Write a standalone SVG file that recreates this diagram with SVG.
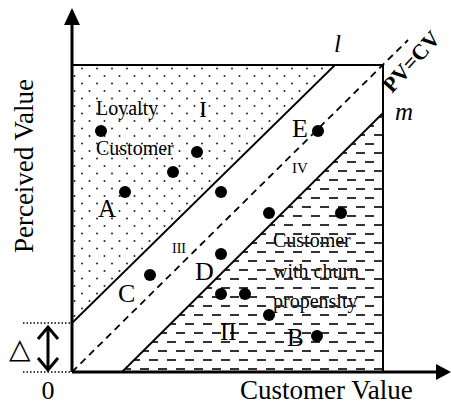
<svg xmlns="http://www.w3.org/2000/svg" width="451" height="404" viewBox="0 0 451 404">
<style>
.t{font-family:"Liberation Serif","Times New Roman","DejaVu Serif",serif;fill:#000}
.ax{stroke:#000;stroke-width:3;fill:none}
.bd{stroke:#000;stroke-width:2;fill:none}
.ln{stroke:#000;stroke-width:1.8;fill:none}
.dot{fill:#000}
</style>
<defs>
<pattern id="dots" patternUnits="userSpaceOnUse" x="72" y="65" width="15" height="15">
<circle cx="10" cy="3.5" r="1" fill="#222"/>
<circle cx="2.5" cy="11" r="1" fill="#222"/>
</pattern>
<pattern id="hatch" patternUnits="userSpaceOnUse" x="122" y="113" width="18" height="18">
<line x1="0" y1="4" x2="9" y2="4" stroke="#333" stroke-width="2"/>
<line x1="9" y1="13" x2="18" y2="13" stroke="#333" stroke-width="2"/>
</pattern>
</defs>

<g id="region-I">
<polygon points="72,65 335,65 72,323" fill="url(#dots)"/>
</g>
<g id="region-II-text">
<text class="t" x="273" y="247" font-size="20">Customer</text>
<text class="t" x="273" y="278" font-size="20">with churn</text>
<text class="t" x="273" y="308" font-size="20">propensity</text>
</g>
<g id="region-II">
<polygon points="122,372 383,113 383,372" fill="url(#hatch)"/>
</g>

<g id="connectors">
<line class="ax" x1="72" y1="372" x2="72" y2="22"/>
<polygon points="72,8 64,25 80,25" fill="#000"/>
<line class="ax" x1="72" y1="372" x2="438" y2="372"/>
<polygon points="451,372 436,364 436,380" fill="#000"/>
<polyline class="bd" points="72,65 383,65 383,372"/>
<line id="line-l" class="ln" x1="72" y1="323" x2="335" y2="65"/>
<line id="line-m" class="ln" x1="122" y1="372" x2="383" y2="113"/>
<line id="line-pvcv" class="ln" x1="72" y1="372" x2="408" y2="40" stroke-dasharray="7,5"/>
<line x1="23" y1="323" x2="72" y2="323" stroke="#000" stroke-width="1.5" stroke-dasharray="1.5,2"/>
<line x1="23" y1="372" x2="72" y2="372" stroke="#000" stroke-width="1.5" stroke-dasharray="1.5,2"/>
<line x1="48" y1="327" x2="48" y2="370" stroke="#000" stroke-width="3"/>
<polyline points="38,339 48,327 58,339" stroke="#000" stroke-width="3" fill="none"/>
<polyline points="38,358 48,370 58,358" stroke="#000" stroke-width="3" fill="none"/>
</g>

<g id="labels">
<text class="t" x="96" y="115" font-size="20">Loyalty</text>
<text class="t" x="96" y="155" font-size="20">Customer</text>
<text class="t" x="199" y="117" font-size="24">I</text>
<text class="t" x="220" y="340" font-size="25">II</text>
<text class="t" x="172" y="253" font-size="14">III</text>
<text class="t" x="292" y="173" font-size="15">IV</text>
<text class="t" x="98" y="217" font-size="25">A</text>
<text class="t" x="287" y="346" font-size="25">B</text>
<text class="t" x="118" y="302" font-size="26">C</text>
<text class="t" x="195" y="280" font-size="26">D</text>
<text class="t" x="292" y="137" font-size="26">E</text>
<text class="t" x="334" y="52" font-size="25" font-style="italic">l</text>
<text class="t" x="395" y="120" font-size="25" font-style="italic">m</text>
<text class="t" font-size="22" font-weight="bold" transform="translate(392,94) rotate(-48)">PV=CV</text>
<text class="t" font-size="27" transform="translate(33,166) rotate(-90)" text-anchor="middle">Perceived Value</text>
<text class="t" x="240" y="399" font-size="27">Customer Value</text>
<text class="t" x="48" y="399" font-size="26" text-anchor="middle">0</text>
<text x="9" y="358" font-size="28" font-family="DejaVu Sans, sans-serif">△</text>
</g>

<g id="points">
<circle class="dot" cx="101" cy="131" r="6"/>
<circle class="dot" cx="197" cy="152" r="6"/>
<circle class="dot" cx="173" cy="172" r="6"/>
<circle class="dot" cx="125" cy="192" r="6"/>
<circle class="dot" cx="221" cy="192" r="6"/>
<circle class="dot" cx="318" cy="131" r="6"/>
<circle class="dot" cx="269" cy="213" r="6"/>
<circle class="dot" cx="341" cy="213" r="6"/>
<circle class="dot" cx="221" cy="254" r="6"/>
<circle class="dot" cx="150" cy="275" r="6"/>
<circle class="dot" cx="221" cy="294" r="6"/>
<circle class="dot" cx="245" cy="294" r="6"/>
<circle class="dot" cx="269" cy="315" r="6"/>
<circle class="dot" cx="317" cy="336" r="6"/>
</g>
</svg>
